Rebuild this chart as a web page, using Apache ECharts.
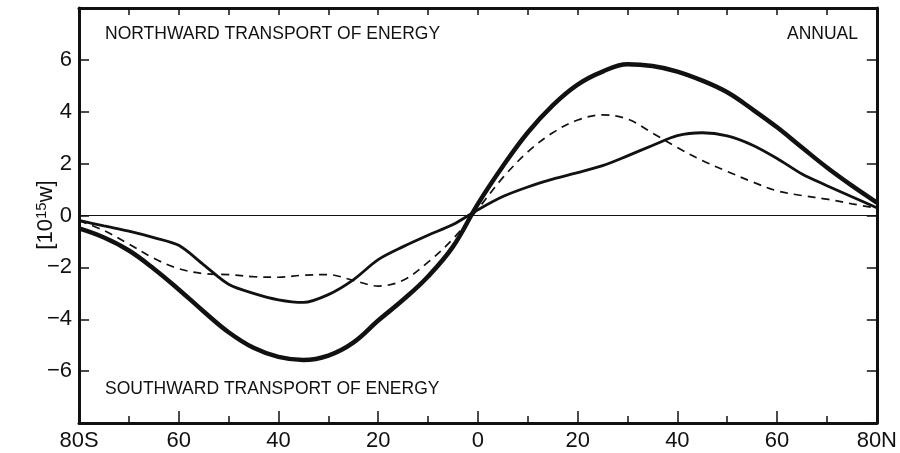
<!DOCTYPE html>
<html>
<head>
<meta charset="utf-8">
<script src="https://cdn.jsdelivr.net/npm/echarts@6/dist/echarts.min.js"></script>
<style>
  html, body { margin: 0; padding: 0; background: #fff; }
  #chart { width: 900px; height: 453px; }
</style>
</head>
<body>
<div id="chart"></div>
<script>
// Latitude in degrees (south negative)
const latitudes = [-80,-75,-70,-65,-60,-55,-50,-45,-40,-35,-30,-25,-20,-15,-10,-5,0,5,10,15,20,25,30,35,40,45,50,55,60,65,70,75,80];

// Annual northward energy transport, 10^15 W
const totalTransport = [-0.5,-0.85,-1.35,-2.05,-2.85,-3.7,-4.5,-5.1,-5.45,-5.57,-5.4,-4.9,-4.05,-3.25,-2.35,-1.2,0.45,1.9,3.2,4.25,5.05,5.55,5.83,5.76,5.55,5.2,4.75,4.1,3.4,2.62,1.85,1.15,0.5];
const solidTransport = [-0.19,-0.4,-0.6,-0.85,-1.15,-1.9,-2.65,-3.0,-3.25,-3.35,-3.05,-2.48,-1.7,-1.2,-0.76,-0.35,0.22,0.73,1.1,1.4,1.65,1.92,2.3,2.7,3.08,3.19,3.07,2.72,2.2,1.6,1.15,0.72,0.3];
const dashedTransport = [-0.2,-0.58,-1.1,-1.65,-2.05,-2.24,-2.28,-2.36,-2.38,-2.3,-2.28,-2.5,-2.72,-2.5,-1.8,-0.9,0.25,1.46,2.45,3.19,3.68,3.88,3.72,3.18,2.62,2.12,1.7,1.3,0.95,0.77,0.63,0.45,0.28];

// Tick labels
const xTickLabels = {'-80':'80S','-60':'60','-40':'40','-20':'20','0':'0','20':'20','40':'40','60':'60','80':'80N'};
const yTickLabels = {'-6':'\u22126','-4':'\u22124','-2':'\u22122','0':'0','2':'2','4':'4','6':'6'};

const pairs = vals => latitudes.map((lat, i) => [lat, vals[i]]);

const ink = '#111';
const font = 'Liberation Sans, Arial, Helvetica, sans-serif';

const chart = echarts.init(document.getElementById('chart'), null, { renderer: 'canvas' });

const frameLine = { show: true, onZero: false, lineStyle: { color: ink, width: 3 } };
const xBase = {
  type: 'value', min: -80, max: 80, interval: 20,
  axisLine: frameLine,
  splitLine: { show: false },
  minorSplitLine: { show: false }
};
const yBase = {
  type: 'value', min: -8, max: 8, interval: 2,
  axisLine: frameLine,
  splitLine: { show: false }
};

chart.setOption({
  animation: false,
  backgroundColor: '#fff',
  grid: { left: 79, right: 22, top: 8, bottom: 30, containLabel: false },
  xAxis: [
    Object.assign({}, xBase, {
      position: 'bottom',
      axisTick: { show: true, inside: true, length: 12, lineStyle: { color: ink, width: 1.5 } },
      minorTick: { show: true, splitNumber: 2, length: 7, lineStyle: { color: ink, width: 1.5 } },
      axisLabel: {
        show: true, margin: 7, color: ink, fontSize: 22, fontFamily: font,
        formatter: v => xTickLabels[String(v)] || ''
      }
    }),
    Object.assign({}, xBase, {
      position: 'top',
      axisTick: { show: true, inside: true, length: 7, lineStyle: { color: ink, width: 1.5 } },
      minorTick: { show: true, splitNumber: 2, length: 7, lineStyle: { color: ink, width: 1.5 } },
      axisLabel: { show: false }
    })
  ],
  yAxis: [
    Object.assign({}, yBase, {
      position: 'left',
      axisTick: { show: true, inside: true, length: 10, lineStyle: { color: ink, width: 1.5 } },
      axisLabel: {
        show: true, margin: 7, color: ink, fontSize: 22, fontFamily: font,
        showMinLabel: false, showMaxLabel: false,
        formatter: v => yTickLabels[String(v)] || ''
      }
    }),
    Object.assign({}, yBase, {
      position: 'right',
      axisTick: { show: true, inside: true, length: 10, lineStyle: { color: ink, width: 1.5 } },
      axisLabel: { show: false }
    })
  ],
  series: [
    {
      name: 'total', type: 'line', data: pairs(totalTransport),
      smooth: 0.4, showSymbol: false, symbol: 'none',
      lineStyle: { color: ink, width: 4.5 },
      markLine: {
        silent: true, symbol: 'none', label: { show: false },
        lineStyle: { color: ink, width: 1.2, type: 'solid' },
        data: [{ yAxis: 0 }]
      },
      z: 5
    },
    {
      name: 'solid', type: 'line', data: pairs(solidTransport),
      smooth: 0.3, showSymbol: false, symbol: 'none',
      lineStyle: { color: ink, width: 2.8 }, z: 4
    },
    {
      name: 'dashed', type: 'line', data: pairs(dashedTransport),
      smooth: 0.35, showSymbol: false, symbol: 'none',
      lineStyle: { color: ink, width: 1.7, type: [8, 6] }, z: 3
    }
  ],
  graphic: [
    {
      type: 'text', left: 105, top: 25,
      style: { text: 'NORTHWARD TRANSPORT OF ENERGY', font: '17.5px ' + font, fill: ink }
    },
    {
      type: 'text', right: 42, top: 25,
      style: { text: 'ANNUAL', font: '17.5px ' + font, fill: ink }
    },
    {
      type: 'text', left: 105, top: 380,
      style: { text: 'SOUTHWARD TRANSPORT OF ENERGY', font: '17.5px ' + font, fill: ink }
    },
    {
      type: 'text', x: 46, y: 215, rotation: Math.PI / 2,
      style: {
        text: '[10{sup|15}w]',
        font: '22px ' + font, fill: ink,
        align: 'center', verticalAlign: 'middle',
        rich: { sup: { fontSize: 15, fontFamily: font, verticalAlign: 'top', padding: [0, 0, 8, 0], fill: ink } }
      }
    }
  ]
});
</script>
</body>
</html>
